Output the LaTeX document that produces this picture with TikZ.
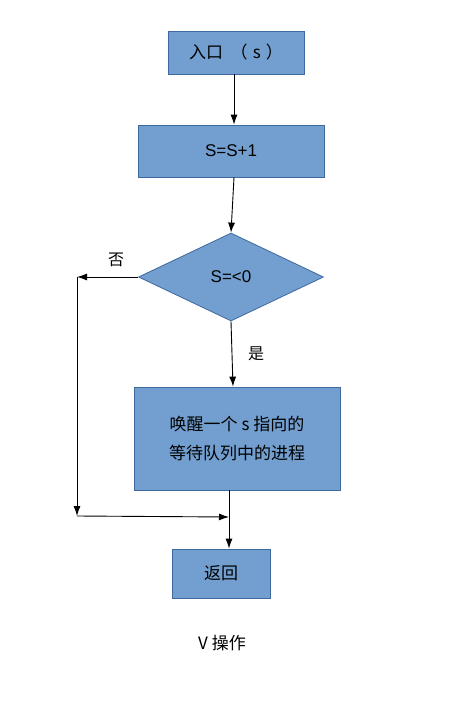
\documentclass[tikz,border=0pt]{standalone}
\usepackage{fontspec}
\setmainfont{Liberation Sans}
\newfontfamily\cjk{Noto Sans CJK SC}
\usepackage{tikz}
\usetikzlibrary{shapes.geometric, arrows.meta, positioning, calc}

\definecolor{boxfill}{RGB}{114,159,207}
\definecolor{boxline}{RGB}{62,104,160}

\tikzset{
    procbox/.style={draw=boxline, fill=boxfill, line width=0.8pt, inner sep=0pt,
        font=\cjk\fontsize{17}{29}\selectfont, align=center},
    testbox/.style={diamond, draw=boxline, fill=boxfill, line width=0.8pt, inner sep=0pt,
        aspect=2.1, font=\fontsize{17}{20}\selectfont},
    flow/.style={draw, line width=0.9pt, -{Latex[length=10pt,width=7pt]}},
    mark label/.style={font=\cjk\fontsize{16}{18}\selectfont}
}

\begin{document}
\begin{tikzpicture}[x=1pt, y=-1pt]
\useasboundingbox (0,0) rectangle (468,714);

% boxes
\node[procbox, minimum width=136, minimum height=43] (entry) at (236,52.5) {入口\hspace{0.45em}（\hspace{0.3em}s\hspace{0.3em}）};
\node[procbox, minimum width=186, minimum height=52, font=\fontsize{17}{20}\selectfont] (incr) at (231,151) {S=S+1};
\node[testbox, minimum width=185, minimum height=88] (test) at (231,277) {S=<0};
\node[procbox, minimum width=206, minimum height=103] (wake) at (237,438.5) {唤醒一个 s 指向的\\等待队列中的进程};
\node[procbox, minimum width=98, minimum height=49] (ret) at (221,573.5) {返回};

% helper points for the left branch
\coordinate (bend) at (77,277);
\coordinate (low) at (77,516);
\coordinate (join) at (229,517);

% connectors
\draw[flow] (entry.south -| 234,0) -- (incr.north -| 234,0);
\draw[flow] (incr.south -| 234,0) -- (test.north);
\draw[flow] (test.south) -- (wake.north -| 233,0);
\draw[flow] (test.west) -- (bend);
\draw[flow] (bend) -- (low);
\draw[flow] (low) -- (join);
\draw[flow] (wake.south -| join) -- (ret.north -| join);

% labels
\node[mark label] (no) at (116,260) {否};
\node[mark label] (yes) at (256,354) {是};
\node[mark label, font=\cjk\fontsize{17}{20}\selectfont] (title) at (222,643) {V 操作};
\end{tikzpicture}
\end{document}
